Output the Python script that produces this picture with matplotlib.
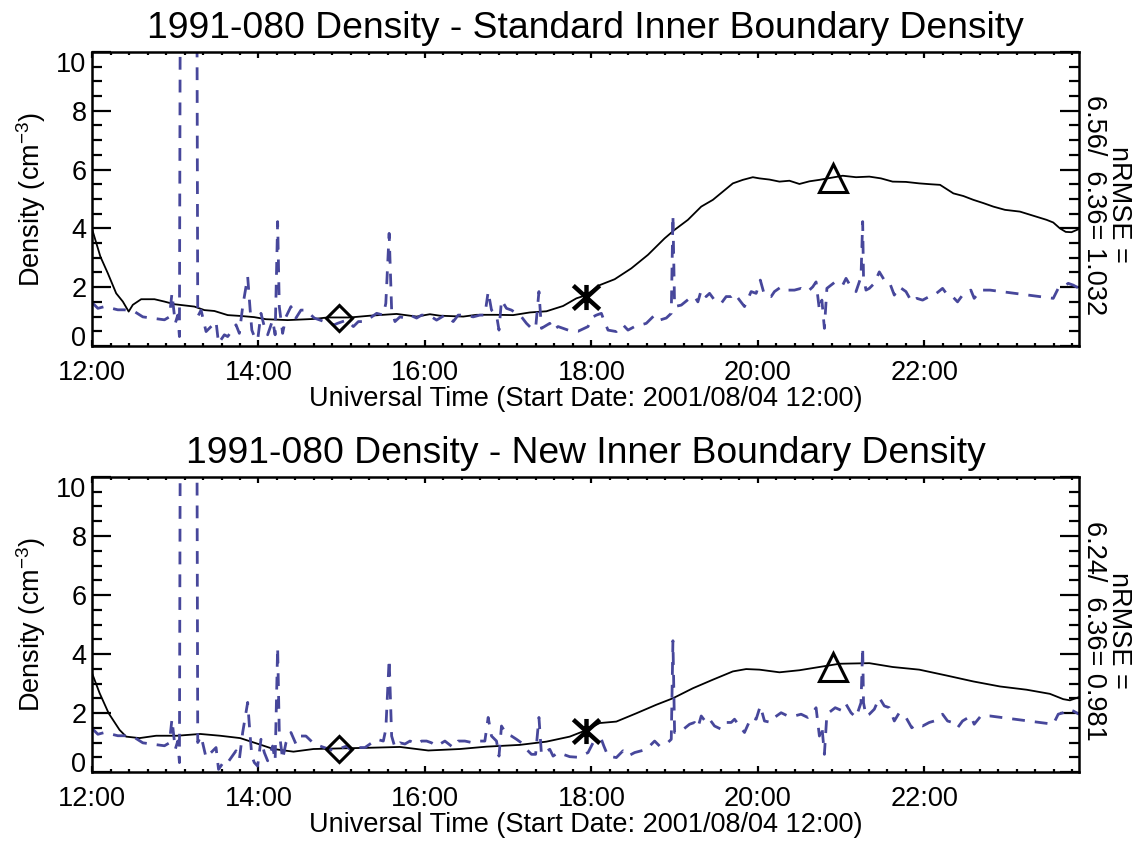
import matplotlib
matplotlib.use('Agg')
import matplotlib.pyplot as plt
from matplotlib.path import Path
from matplotlib.ticker import MultipleLocator, FuncFormatter

plt.rcParams['font.family'] = ['Liberation Sans', 'DejaVu Sans']
plt.rcParams['mathtext.fontset'] = 'custom'
plt.rcParams['mathtext.rm'] = 'Liberation Sans'
plt.rcParams['mathtext.it'] = 'Liberation Sans:italic'

# observed density, 1991-080 (UT hours, cm^-3)
obs_t = [12.01, 12.07, 12.15, 12.31, 12.39, 12.51, 12.61, 12.71, 12.87, 12.93,
         12.96, 13.00, 13.03, 13.05, 13.06, 13.26, 13.27, 13.31, 13.37, 13.43,
         13.49, 13.52, 13.59, 13.63, 13.73, 13.77, 13.81, 13.87, 13.90, 13.92,
         13.95, 13.99, 14.03, 14.07, 14.11, 14.17, 14.20, 14.23, 14.25, 14.29,
         14.33, 14.39, 14.45, 14.51, 14.57, 14.67, 14.79, 14.91, 14.95, 15.06,
         15.14, 15.20, 15.28, 15.42, 15.50, 15.53, 15.57, 15.60, 15.64, 15.70,
         15.76, 15.82, 15.90, 15.96, 16.02, 16.08, 16.14, 16.24, 16.34, 16.40,
         16.48, 16.58, 16.66, 16.72, 16.76, 16.80, 16.86, 16.89, 16.92, 16.98,
         17.04, 17.10, 17.16, 17.22, 17.28, 17.33, 17.37, 17.40, 17.50, 17.54,
         17.60, 17.74, 17.84, 17.96, 18.02, 18.06, 18.12, 18.15, 18.20, 18.30,
         18.38, 18.44, 18.52, 18.60, 18.66, 18.76, 18.82, 18.90, 18.96, 18.98,
         19.00, 19.08, 19.18, 19.24, 19.28, 19.32, 19.38, 19.42, 19.48, 19.56,
         19.62, 19.68, 19.72, 19.78, 19.84, 19.92, 19.98, 20.03, 20.08, 20.16,
         20.20, 20.28, 20.36, 20.44, 20.52, 20.60, 20.66, 20.70, 20.74, 20.77,
         20.80, 20.83, 20.93, 21.02, 21.06, 21.12, 21.18, 21.24, 21.26, 21.27,
         21.30, 21.34, 21.40, 21.46, 21.52, 21.58, 21.64, 21.70, 21.78, 21.85,
         21.91, 21.98, 22.06, 22.12, 22.22, 22.28, 22.34, 22.40, 22.46, 22.56,
         22.60, 22.68, 22.79, 23.55, 23.61, 23.67, 23.73, 23.79, 23.86]
obs_n = [1.45, 1.28, 1.34, 1.23, 1.23, 1.17, 0.99, 0.95, 0.89, 0.99,
         1.79, 0.77, 1.05, 0.32, 12.0, 12.0, 1.00, 1.22, 0.49, 0.66,
         0.83, 0.09, 0.38, 0.32, 0.72, 0.43, 1.34, 2.36, 1.22, 0.54,
         0.32, 0.20, 1.11, 0.66, 0.38, 0.88, 0.38, 4.23, 1.34, 0.43,
         0.99, 1.34, 0.95, 1.22, 1.22, 0.95, 0.83, 0.72, 0.77, 0.88,
         0.66, 0.83, 0.83, 1.11, 1.05, 1.45, 3.83, 1.22, 0.83, 0.99,
         0.95, 1.05, 0.95, 1.05, 1.05, 0.99, 0.88, 1.05, 0.83, 1.05,
         1.05, 0.99, 1.05, 1.05, 1.85, 1.22, 1.05, 0.54, 1.56, 1.28,
         1.22, 1.11, 0.99, 0.77, 0.60, 0.60, 1.85, 0.60, 0.77, 0.54,
         0.66, 0.52, 0.50, 0.66, 0.99, 1.05, 1.11, 0.88, 0.54, 0.49,
         0.72, 0.54, 0.66, 0.72, 0.77, 1.05, 0.88, 0.95, 1.11, 4.45,
         1.34, 1.39, 1.62, 1.68, 1.50, 1.90, 1.68, 1.79, 1.56, 1.45,
         1.68, 1.68, 1.79, 1.56, 1.34, 1.85, 1.79, 2.24, 1.73, 1.68,
         1.85, 2.01, 1.90, 1.90, 1.96, 1.85, 2.01, 2.18, 1.22, 1.56,
         0.60, 1.96, 2.18, 2.07, 2.30, 2.01, 1.85, 2.35, 4.23, 2.35,
         1.90, 1.96, 2.13, 2.52, 2.24, 2.18, 1.73, 2.01, 1.85, 1.50,
         1.62, 1.56, 1.68, 1.73, 1.96, 1.73, 1.68, 1.50, 1.73, 1.90,
         1.62, 1.90, 1.90, 1.62, 1.96, 2.01, 2.13, 2.07, 1.96]

# model with standard inner boundary density
std_t = [12.00, 12.10, 12.19, 12.29, 12.37, 12.44, 12.49, 12.59, 12.75, 12.87,
         12.99, 13.11, 13.23, 13.35, 13.47, 13.63, 13.79, 13.95, 14.09, 14.35,
         14.67, 14.83, 15.10, 15.34, 15.50, 15.66, 15.90, 16.06, 16.18, 16.46,
         16.62, 16.86, 17.06, 17.26, 17.46, 17.66, 17.82, 17.94, 18.10, 18.28,
         18.48, 18.68, 18.88, 19.00, 19.16, 19.32, 19.46, 19.58, 19.70, 19.82,
         19.94, 20.02, 20.14, 20.26, 20.38, 20.50, 20.62, 20.74, 20.90, 21.02,
         21.18, 21.34, 21.48, 21.62, 21.78, 21.94, 22.08, 22.19, 22.35, 22.47,
         22.59, 22.71, 22.83, 22.97, 23.15, 23.31, 23.47, 23.55, 23.63, 23.70,
         23.77, 23.86]
std_n = [3.98, 3.04, 2.47, 1.79, 1.51, 1.17, 1.40, 1.59, 1.59, 1.51,
         1.42, 1.38, 1.34, 1.22, 1.19, 1.05, 1.02, 0.98, 0.91, 0.88,
         0.92, 0.97, 0.97, 1.03, 1.06, 1.09, 1.00, 1.08, 1.03, 1.00,
         1.06, 1.06, 1.05, 1.14, 1.18, 1.36, 1.62, 1.73, 2.07, 2.27,
         2.64, 3.10, 3.66, 3.95, 4.29, 4.74, 4.97, 5.25, 5.53, 5.65,
         5.74, 5.70, 5.66, 5.59, 5.62, 5.51, 5.60, 5.65, 5.73, 5.79,
         5.74, 5.76, 5.70, 5.59, 5.58, 5.53, 5.50, 5.48, 5.19, 5.10,
         4.97, 4.86, 4.74, 4.63, 4.57, 4.43, 4.29, 4.20, 4.00, 3.88,
         3.87, 3.98]

# model with new inner boundary density
new_t = [12.00, 12.09, 12.20, 12.33, 12.41, 12.57, 12.77, 13.02, 13.30, 13.54,
         13.78, 14.02, 14.18, 14.42, 14.66, 14.97, 15.30, 15.70, 16.04, 16.42,
         16.74, 17.14, 17.46, 17.74, 17.93, 18.10, 18.30, 18.54, 18.78, 18.98,
         19.22, 19.46, 19.70, 19.86, 20.02, 20.26, 20.50, 20.74, 20.98, 21.34,
         21.62, 21.94, 22.27, 22.59, 22.91, 23.23, 23.51, 23.67, 23.75, 23.86]
new_n = [3.35, 2.68, 1.99, 1.43, 1.20, 1.15, 1.23, 1.23, 1.29, 1.23,
         1.15, 0.93, 0.78, 0.69, 0.78, 0.80, 0.82, 0.85, 0.73, 0.78,
         0.86, 0.92, 1.03, 1.20, 1.41, 1.66, 1.71, 1.99, 2.28, 2.50,
         2.84, 3.13, 3.41, 3.49, 3.47, 3.38, 3.45, 3.56, 3.67, 3.69,
         3.56, 3.47, 3.27, 3.07, 2.90, 2.79, 2.65, 2.47, 2.43, 2.54]

# event markers (diamond, asterisk, triangle)
mark_t = [14.97, 17.93, 20.90]
std_mark = [0.94, 1.66, 5.72]
new_mark = [0.78, 1.39, 3.56]

titles = ['1991-080 Density - Standard Inner Boundary Density',
          '1991-080 Density - New Inner Boundary Density']
nrmse = ['nRMSE =\n6.56/  6.36= 1.032', 'nRMSE =\n6.24/  6.36= 0.981']
xlab = 'Universal Time (Start Date: 2001/08/04 12:00)'
ylab = 'Density (cm$^{-3}$)'

obs_col = '#47479b'
fs = 19.5

# IDL style asterisk: vertical bar plus an X
star = Path([(0, -0.95), (0, 0.95), (-1, -0.9), (1, 0.9), (-1, 0.9), (1, -0.9)],
            [Path.MOVETO, Path.LINETO, Path.MOVETO, Path.LINETO, Path.MOVETO, Path.LINETO])

fig = plt.figure(figsize=(11.35, 8.42), dpi=100)
ax1 = fig.add_axes([0.0811, 0.5891, 0.8696, 0.3492])
ax2 = fig.add_axes([0.0811, 0.0831, 0.8696, 0.3504])

for ax, mod_t, mod_n, mk, ttl, txt in [(ax1, std_t, std_n, std_mark, titles[0], nrmse[0]),
                                       (ax2, new_t, new_n, new_mark, titles[1], nrmse[1])]:
    ax.plot(mod_t, mod_n, color='black', lw=1.3)
    ax.plot(obs_t, obs_n, color=obs_col, lw=2.0, linestyle=(0, (4.6, 3.6)))
    ax.plot(mark_t[0], mk[0], marker='D', ms=13.5, mfc='none', mec='black', mew=2.2)
    ax.plot(mark_t[1], mk[1], marker=star, ms=19, mfc='none', mec='black', mew=3.2)
    ax.plot(mark_t[2], mk[2], marker='^', ms=20, mfc='none', mec='black', mew=2.2)

    ax.set_xlim(12, 23.86)
    ax.set_ylim(0, 10)
    ax.set_xticks([12, 14, 16, 18, 20, 22])
    ax.xaxis.set_minor_locator(MultipleLocator(2 / 9))
    ax.xaxis.set_major_formatter(FuncFormatter(lambda v, p: '%02d:00' % int(round(v))))
    ax.set_yticks([0, 2, 4, 6, 8, 10])
    ax.yaxis.set_minor_locator(MultipleLocator(0.5))

    ax.tick_params(axis='both', which='both', direction='in', top=True, right=True,
                   labelsize=fs, width=1.6)
    ax.tick_params(axis='x', which='major', length=4.5, pad=10)
    ax.tick_params(axis='x', which='minor', length=2.5)
    ax.tick_params(axis='y', which='major', length=14, pad=4)
    ax.tick_params(axis='y', which='minor', length=7)
    for s in ax.spines.values():
        s.set_linewidth(1.8)

    yt = ax.yaxis.get_major_ticks()
    yt[0].label1.set_va('baseline')
    yt[-1].label1.set_va('top')

    ax.set_title(ttl, fontsize=26.8, pad=10)
    ax.set_xlabel(xlab, fontsize=fs, labelpad=0)
    ax.set_ylabel(ylab, fontsize=fs, labelpad=6)
    ax.text(1.028, 0.48, txt, transform=ax.transAxes, rotation=270, fontsize=fs,
            ha='center', va='center', multialignment='center', linespacing=0.95)

fig.savefig('out.png', dpi=100)
